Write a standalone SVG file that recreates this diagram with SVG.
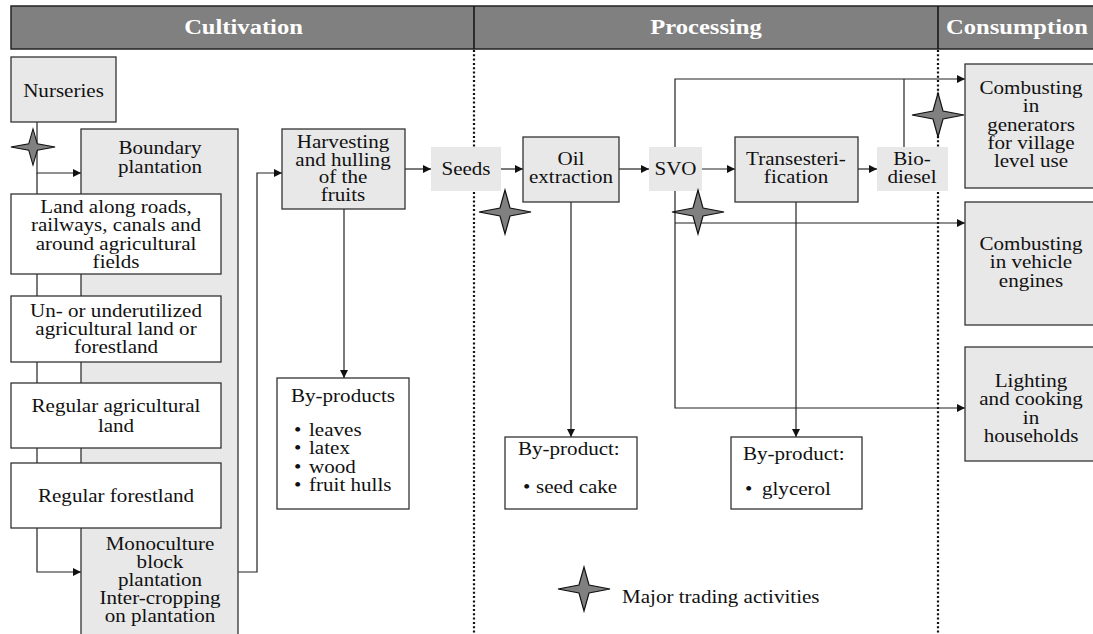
<svg xmlns="http://www.w3.org/2000/svg" width="1093" height="634" viewBox="0 0 1093 634">
<style>
.t{font-family:"Liberation Serif","Times New Roman",serif;font-size:18px;fill:#111;text-anchor:middle}
.l{text-anchor:start}
.h{font-family:"Liberation Serif","Times New Roman",serif;font-size:21px;font-weight:bold;fill:#fff;text-anchor:middle}
.g{fill:#e8e8e8;stroke:#333;stroke-width:1.3}
.w{fill:#fff;stroke:#333;stroke-width:1.3}
.n{fill:#e8e8e8;stroke:none}
.c{fill:none;stroke:#222;stroke-width:1.2}
.d{fill:none;stroke:#111;stroke-width:2.2;stroke-dasharray:2 2.3}
</style>
<defs>
<marker id="ar" viewBox="0 0 10 10" refX="10" refY="5" markerWidth="8" markerHeight="8" markerUnits="userSpaceOnUse" orient="auto">
<path d="M0,0 L10,5 L0,10 Z" fill="#111"/>
</marker>
<path id="star" d="M-26,0 L-5,-4 L0,-22 L5,-4 L26,0 L5,4 L0,22 L-5,4 Z" fill="#808080" stroke="#111" stroke-width="1.2"/>
</defs>

<g id="header">
<rect x="11" y="6" width="1090" height="43" fill="#808080" stroke="#222" stroke-width="1.5"/>
<line x1="474" y1="6" x2="474" y2="49" stroke="#111" stroke-width="1.5"/>
<line x1="938" y1="6" x2="938" y2="49" stroke="#111" stroke-width="1.5"/>
<text class="h" transform="matrix(1.17 0 0 1 243.5 34)">Cultivation</text>
<text class="h" transform="matrix(1.17 0 0 1 706 34)">Processing</text>
<text class="h" transform="matrix(1.17 0 0 1 1017 34)">Consumption</text>
</g>

<g id="dividers">
<line class="d" x1="474" y1="50" x2="474" y2="634"/>
<line class="d" x1="938" y1="50" x2="938" y2="634"/>
</g>

<g id="connectors">
<path class="c" d="M37,122 V173 H81" marker-end="url(#ar)"/>
<path class="c" d="M37,173 V572 H81" marker-end="url(#ar)"/>
<path class="c" d="M238,572 H257 V173 H282" marker-end="url(#ar)"/>
<path class="c" d="M405,169 H431" marker-end="url(#ar)"/>
<path class="c" d="M501,169 H523" marker-end="url(#ar)"/>
<path class="c" d="M619,169 H649" marker-end="url(#ar)"/>
<path class="c" d="M702,169 H735" marker-end="url(#ar)"/>
<path class="c" d="M858,169 H877" marker-end="url(#ar)"/>
<path class="c" d="M675,147 V79 H965" marker-end="url(#ar)"/>
<path class="c" d="M904,147 V79"/>
<path class="c" d="M675,191 V408 H965" marker-end="url(#ar)"/>
<path class="c" d="M675,223 H965" marker-end="url(#ar)"/>
<path class="c" d="M344,209 V378" marker-end="url(#ar)"/>
<path class="c" d="M571,202 V437" marker-end="url(#ar)"/>
<path class="c" d="M796,202 V437" marker-end="url(#ar)"/>
</g>

<g id="nurseries">
<rect class="g" x="11" y="57" width="105" height="65"/>
<text class="t" transform="matrix(1.17 0 0 1 63.5 97)">Nurseries</text>
</g>

<g id="plantation">
<rect class="g" x="81" y="129" width="157" height="510"/>
<text class="t" transform="matrix(1.17 0 0 1 160 154)"><tspan x="0">Boundary</tspan><tspan x="0" dy="19">plantation</tspan></text>
<text class="t" transform="matrix(1.17 0 0 1 160 550)"><tspan x="0">Monoculture</tspan><tspan x="0" dy="18">block</tspan><tspan x="0" dy="18">plantation</tspan><tspan x="0" dy="18">Inter-cropping</tspan><tspan x="0" dy="18">on plantation</tspan></text>
</g>

<g id="land-roads">
<rect class="w" x="11" y="194" width="210" height="80"/>
<text class="t" transform="matrix(1.17 0 0 1 116 213)"><tspan x="0">Land along roads,</tspan><tspan x="0" dy="18.3">railways, canals and</tspan><tspan x="0" dy="18.3">around agricultural</tspan><tspan x="0" dy="18.3">fields</tspan></text>
</g>

<g id="land-underutilized">
<rect class="w" x="11" y="296" width="210" height="66"/>
<text class="t" transform="matrix(1.17 0 0 1 116 317)"><tspan x="0">Un- or underutilized</tspan><tspan x="0" dy="18">agricultural land or</tspan><tspan x="0" dy="18">forestland</tspan></text>
</g>

<g id="land-agricultural">
<rect class="w" x="11" y="383" width="210" height="65"/>
<text class="t" transform="matrix(1.17 0 0 1 116 412)"><tspan x="0">Regular agricultural</tspan><tspan x="0" dy="20">land</tspan></text>
</g>

<g id="land-forest">
<rect class="w" x="11" y="463" width="210" height="65"/>
<text class="t" transform="matrix(1.17 0 0 1 116 502)">Regular forestland</text>
</g>

<g id="harvesting">
<rect class="g" x="282" y="129" width="123" height="80"/>
<text class="t" transform="matrix(1.17 0 0 1 343 148)"><tspan x="0">Harvesting</tspan><tspan x="0" dy="17.7">and hulling</tspan><tspan x="0" dy="17.7">of the</tspan><tspan x="0" dy="17.7">fruits</tspan></text>
</g>

<g id="byproducts-fruit">
<rect class="w" x="277" y="378" width="132" height="131"/>
<text class="t l" transform="matrix(1.17 0 0 1 291 402)">By-products</text>
<text class="t l" transform="matrix(1.17 0 0 1 294 436)"><tspan x="0">•</tspan><tspan x="0" dy="18.3">•</tspan><tspan x="0" dy="18.3">•</tspan><tspan x="0" dy="18.3">•</tspan></text>
<text class="t l" transform="matrix(1.17 0 0 1 309 436)"><tspan x="0">leaves</tspan><tspan x="0" dy="18.3">latex</tspan><tspan x="0" dy="18.3">wood</tspan><tspan x="0" dy="18.3">fruit hulls</tspan></text>
</g>

<g id="seeds">
<rect class="n" x="431" y="147" width="70" height="44"/>
<text class="t" transform="matrix(1.17 0 0 1 466 175)">Seeds</text>
</g>

<g id="oil-extraction">
<rect class="g" x="523" y="137" width="96" height="65"/>
<text class="t" transform="matrix(1.17 0 0 1 571 165)"><tspan x="0">Oil</tspan><tspan x="0" dy="18">extraction</tspan></text>
</g>

<g id="byproduct-seedcake">
<rect class="w" x="505" y="437" width="132" height="72"/>
<text class="t l" transform="matrix(1.17 0 0 1 518 455)">By-product:</text>
<text class="t l" transform="matrix(1.17 0 0 1 523 493)">•</text>
<text class="t l" transform="matrix(1.17 0 0 1 536 493)">seed cake</text>
</g>

<g id="svo">
<rect class="n" x="649" y="147" width="53" height="44"/>
<text class="t" transform="matrix(1.17 0 0 1 675.5 175)">SVO</text>
</g>

<g id="transesterification">
<rect class="g" x="735" y="137" width="123" height="65"/>
<text class="t" transform="matrix(1.17 0 0 1 796 165)"><tspan x="0">Transesteri-</tspan><tspan x="0" dy="18">fication</tspan></text>
</g>

<g id="byproduct-glycerol">
<rect class="w" x="731" y="437" width="131" height="72"/>
<text class="t l" transform="matrix(1.17 0 0 1 743 460)">By-product:</text>
<text class="t l" transform="matrix(1.17 0 0 1 745 495)">•</text>
<text class="t l" transform="matrix(1.17 0 0 1 762 495)">glycerol</text>
</g>

<g id="biodiesel">
<rect class="n" x="877" y="147" width="71" height="44"/>
<text class="t" transform="matrix(1.17 0 0 1 912 165)"><tspan x="0">Bio-</tspan><tspan x="0" dy="18.5">diesel</tspan></text>
</g>

<g id="generators">
<rect class="g" x="965" y="64" width="140" height="124"/>
<text class="t" transform="matrix(1.17 0 0 1 1031 94)"><tspan x="0">Combusting</tspan><tspan x="0" dy="18.3">in</tspan><tspan x="0" dy="18.3">generators</tspan><tspan x="0" dy="18.3">for village</tspan><tspan x="0" dy="18.3">level use</tspan></text>
</g>

<g id="vehicles">
<rect class="g" x="965" y="202" width="140" height="123"/>
<text class="t" transform="matrix(1.17 0 0 1 1031 250)"><tspan x="0">Combusting</tspan><tspan x="0" dy="18.3">in vehicle</tspan><tspan x="0" dy="18.3">engines</tspan></text>
</g>

<g id="households">
<rect class="g" x="965" y="347" width="140" height="114"/>
<text class="t" transform="matrix(1.17 0 0 1 1031 387)"><tspan x="0">Lighting</tspan><tspan x="0" dy="18.3">and cooking</tspan><tspan x="0" dy="18.3">in</tspan><tspan x="0" dy="18.3">households</tspan></text>
</g>

<g id="stars">
<use href="#star" transform="translate(33,147) scale(0.85,0.82)"/>
<use href="#star" transform="translate(505,212)"/>
<use href="#star" transform="translate(698,212)"/>
<use href="#star" transform="translate(938,115)"/>
</g>

<g id="legend">
<use href="#star" transform="translate(584,589)"/>
<text class="t l" transform="matrix(1.17 0 0 1 622 603)">Major trading activities</text>
</g>
</svg>
